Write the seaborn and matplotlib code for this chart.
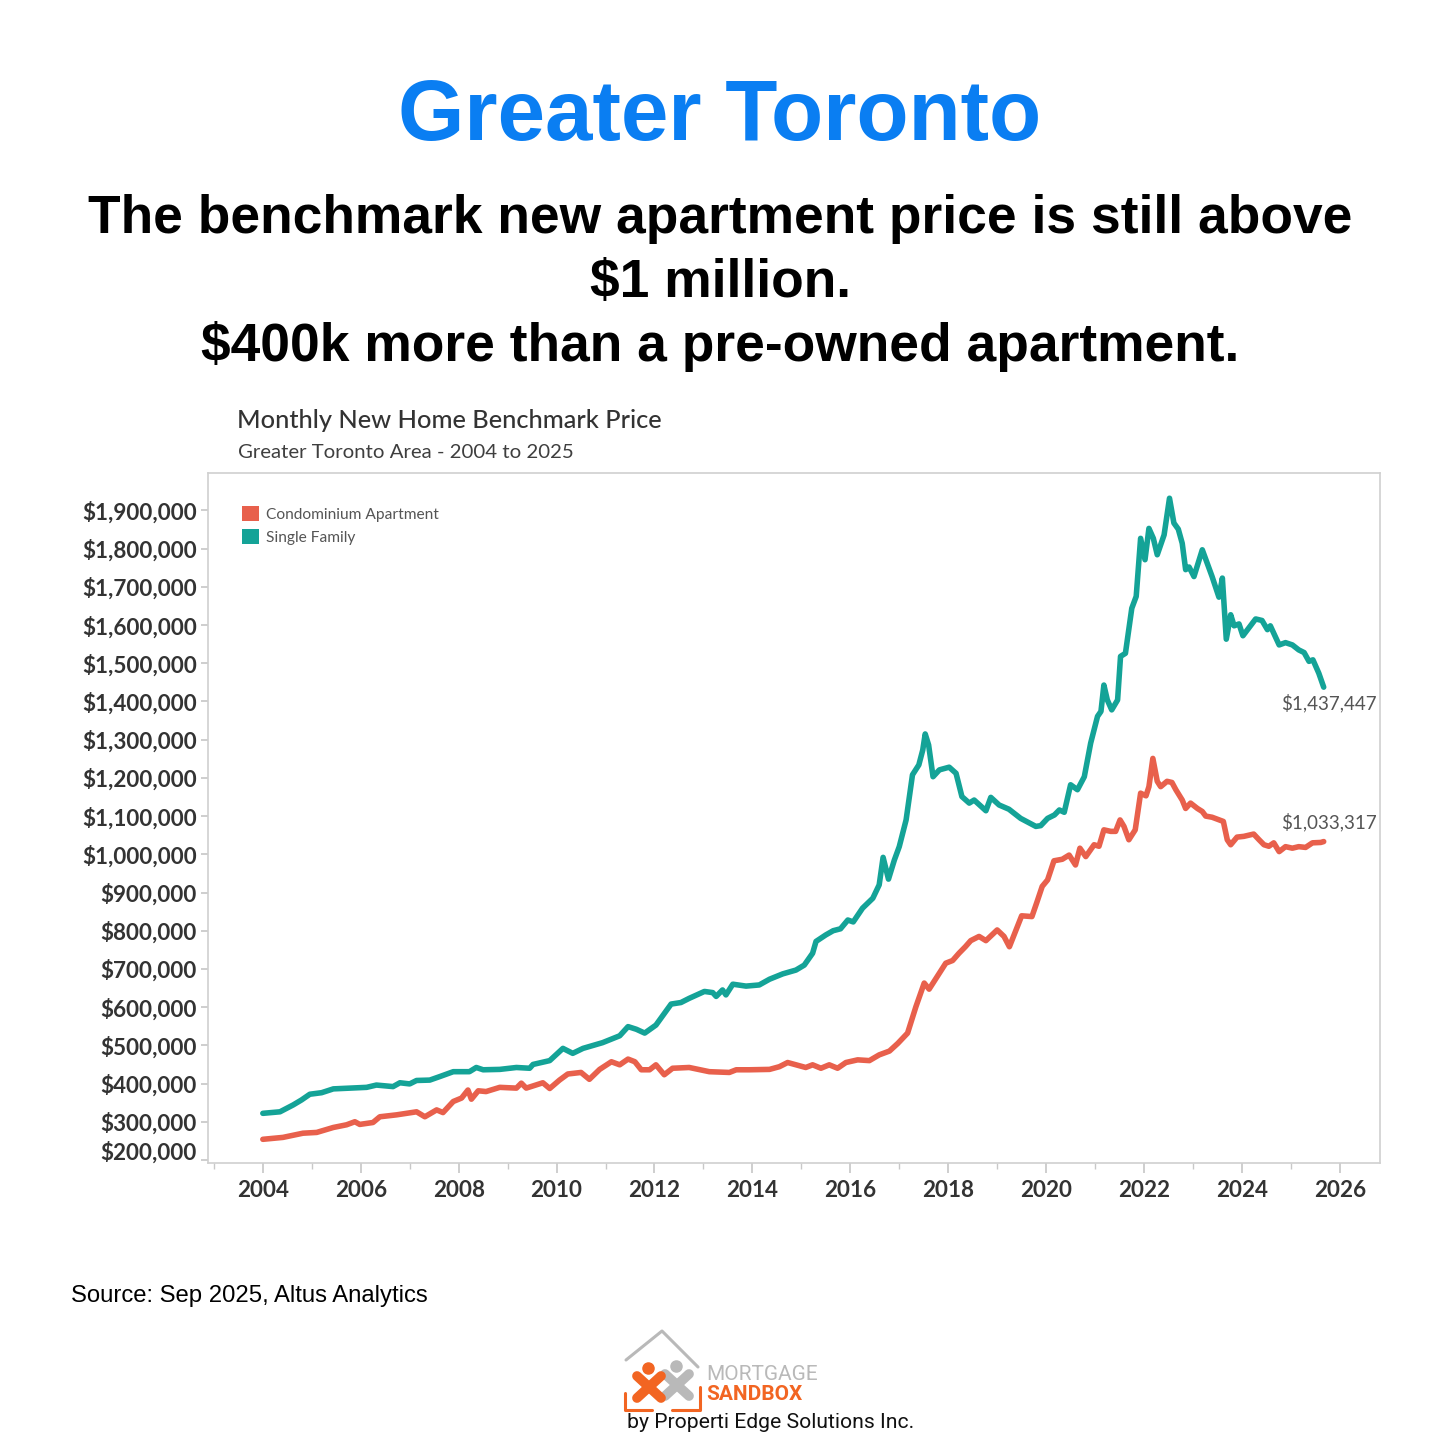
import numpy as np
import pandas as pd
import matplotlib
matplotlib.use('Agg')
import matplotlib.pyplot as plt
from matplotlib.patches import Patch
from matplotlib.lines import Line2D
from matplotlib.ticker import FixedLocator, StrMethodFormatter
import seaborn as sns

# Values (decimal year, price in $ thousands).
sf_years = [2004.00, 2004.35, 2004.62, 2004.79, 2004.96, 2005.20, 2005.44, 2005.78,
            2006.12, 2006.32, 2006.66, 2006.80, 2007.00, 2007.14, 2007.41, 2007.61,
            2007.89, 2008.22, 2008.36, 2008.50, 2008.84, 2009.18, 2009.45, 2009.52,
            2009.86, 2010.13, 2010.33, 2010.54, 2010.94, 2011.29, 2011.46, 2011.63,
            2011.80, 2012.03, 2012.34, 2012.54, 2012.71, 2013.02, 2013.19, 2013.26,
            2013.39, 2013.46, 2013.60, 2013.87, 2014.14, 2014.35, 2014.62, 2014.89,
            2015.06, 2015.23, 2015.30, 2015.50, 2015.65, 2015.80, 2015.95, 2016.06,
            2016.25, 2016.46, 2016.59, 2016.67, 2016.78, 2016.90, 2017.00, 2017.14,
            2017.27, 2017.40, 2017.48, 2017.53, 2017.60, 2017.69, 2017.82, 2018.02,
            2018.16, 2018.28, 2018.43, 2018.53, 2018.77, 2018.87, 2019.04, 2019.24,
            2019.48, 2019.79, 2019.89, 2020.03, 2020.17, 2020.27, 2020.37, 2020.50,
            2020.64, 2020.78, 2020.91, 2021.05, 2021.12, 2021.18, 2021.25, 2021.34,
            2021.46, 2021.52, 2021.62, 2021.75, 2021.84, 2021.93, 2022.02, 2022.10,
            2022.19, 2022.27, 2022.41, 2022.52, 2022.61, 2022.70, 2022.78, 2022.85,
            2022.92, 2023.02, 2023.19, 2023.39, 2023.53, 2023.60, 2023.68, 2023.77,
            2023.84, 2023.94, 2024.02, 2024.28, 2024.41, 2024.52, 2024.58, 2024.76,
            2024.89, 2025.03, 2025.16, 2025.27, 2025.37, 2025.45, 2025.57, 2025.67]
sf_values = [322, 326, 344, 357, 372, 376, 386, 388,
             390, 396, 392, 402, 399, 408, 409, 418,
             431, 431, 442, 436, 437, 442, 440, 450,
             460, 492, 479, 492, 507, 525, 549, 542,
             532, 553, 608, 612, 623, 641, 638, 628,
             645, 632, 660, 655, 658, 673, 687, 697,
             710, 741, 772, 789, 800, 805, 828, 823,
             859, 885, 920, 992, 935, 985, 1020, 1090,
             1208, 1234, 1273, 1315, 1286, 1203, 1221, 1228,
             1212, 1151, 1134, 1142, 1114, 1149, 1129, 1118,
             1094, 1073, 1075, 1094, 1103, 1116, 1110, 1182,
             1169, 1203, 1291, 1361, 1374, 1443, 1404, 1378,
             1404, 1518, 1526, 1644, 1675, 1827, 1771, 1853,
             1827, 1784, 1836, 1932, 1867, 1851, 1814, 1745,
             1752, 1727, 1797, 1727, 1673, 1723, 1563, 1627,
             1598, 1603, 1572, 1616, 1612, 1588, 1598, 1548,
             1554, 1548, 1535, 1528, 1505, 1509, 1474, 1437.447]

condo_years = [2004.00, 2004.41, 2004.82, 2005.10, 2005.44, 2005.71, 2005.88, 2005.98,
               2006.25, 2006.39, 2006.73, 2007.14, 2007.31, 2007.55, 2007.68, 2007.89,
               2008.06, 2008.19, 2008.26, 2008.40, 2008.56, 2008.84, 2009.18, 2009.28,
               2009.38, 2009.72, 2009.86, 2010.06, 2010.23, 2010.50, 2010.67, 2010.88,
               2011.12, 2011.29, 2011.46, 2011.60, 2011.73, 2011.90, 2012.03, 2012.20,
               2012.37, 2012.71, 2013.12, 2013.53, 2013.67, 2013.94, 2014.35, 2014.55,
               2014.72, 2014.89, 2015.09, 2015.23, 2015.40, 2015.57, 2015.74, 2015.91,
               2016.15, 2016.39, 2016.59, 2016.80, 2016.97, 2017.17, 2017.34, 2017.51,
               2017.61, 2017.82, 2017.95, 2018.09, 2018.22, 2018.35, 2018.46, 2018.63,
               2018.77, 2019.00, 2019.14, 2019.25, 2019.50, 2019.71, 2019.81, 2019.92,
               2020.03, 2020.16, 2020.33, 2020.47, 2020.60, 2020.69, 2020.81, 2020.98,
               2021.08, 2021.18, 2021.32, 2021.42, 2021.51, 2021.59, 2021.69, 2021.82,
               2021.93, 2022.04, 2022.10, 2022.18, 2022.27, 2022.34, 2022.47, 2022.57,
               2022.65, 2022.78, 2022.85, 2022.95, 2023.09, 2023.19, 2023.26, 2023.39,
               2023.56, 2023.62, 2023.70, 2023.77, 2023.90, 2024.04, 2024.14, 2024.24,
               2024.35, 2024.45, 2024.55, 2024.65, 2024.76, 2024.89, 2025.03, 2025.16,
               2025.30, 2025.44, 2025.61, 2025.67]
condo_values = [254, 259, 270, 272, 285, 292, 300, 293,
                298, 313, 318, 326, 313, 331, 324, 353,
                362, 383, 359, 381, 379, 390, 388, 401,
                388, 402, 387, 409, 425, 429, 411, 437,
                457, 449, 464, 457, 436, 436, 449, 423,
                440, 442, 431, 429, 436, 436, 437, 444,
                455, 449, 442, 449, 440, 449, 440, 455,
                462, 460, 475, 485, 505, 532, 601, 663,
                647, 689, 715, 722, 741, 758, 774, 785,
                774, 802, 785, 758, 839, 837, 874, 916,
                933, 983, 987, 998, 972, 1016, 994, 1025,
                1021, 1064, 1060, 1060, 1090, 1073, 1038, 1064,
                1160, 1153, 1177, 1251, 1191, 1177, 1191, 1188,
                1169, 1142, 1120, 1134, 1120, 1112, 1100, 1097,
                1089, 1086, 1038, 1025, 1045, 1047, 1050, 1053,
                1038, 1025, 1021, 1030, 1007, 1020, 1016, 1020,
                1018, 1030, 1031, 1033.317]

series_names = ['Condominium Apartment', 'Single Family']
series_colors = ['#e8604c', '#14a397']
y_ticks = list(range(200000, 2000000, 100000))
x_ticks = list(range(2004, 2027, 2))

df = pd.concat([
    pd.DataFrame({'year': condo_years, 'price': np.array(condo_values) * 1000,
                  'type': series_names[0]}),
    pd.DataFrame({'year': sf_years, 'price': np.array(sf_values) * 1000,
                  'type': series_names[1]}),
])

sns.set_theme(style='white')
plt.rcParams['font.family'] = ['Lato', 'DejaVu Sans']

fig = plt.figure(figsize=(14.4, 14.4), dpi=100)
ax = fig.add_axes([208 / 1440, 1 - 1163 / 1440, 1172 / 1440, 690 / 1440])

sns.lineplot(data=df, x='year', y='price', hue='type', hue_order=series_names,
             palette=series_colors, linewidth=4.0, ax=ax, legend=False,
             estimator=None, sort=False)

ax.set_xlim(2002.88, 2026.82)
ax.set_ylim(192000, 1998000)
ax.yaxis.set_major_locator(FixedLocator(y_ticks))
ax.yaxis.set_major_formatter(StrMethodFormatter('${x:,.0f}'))
ax.xaxis.set_major_locator(FixedLocator(x_ticks))
ax.xaxis.set_minor_locator(FixedLocator(list(range(2003, 2026, 2))))
ax.xaxis.set_major_formatter(StrMethodFormatter('{x:.0f}'))
ax.set_xlabel('')
ax.set_ylabel('')
for s in ax.spines.values():
    s.set_color('#d0d0d0')
    s.set_linewidth(1.2)
ax.tick_params(axis='both', which='both', color='#c8c8c8', labelcolor='#333333',
               labelsize=16.2, direction='out')
ax.tick_params(axis='y', which='major', left=True, length=5, pad=3)
ax.tick_params(axis='x', which='major', bottom=True, length=7, pad=5)
ax.tick_params(axis='x', which='minor', bottom=True, length=4)
for lbl in ax.get_xticklabels() + ax.get_yticklabels():
    lbl.set_fontweight('bold')
ax.get_yticklabels()[0].set_verticalalignment('baseline')

# end-point value labels
ax.annotate('$1,437,447', (sf_years[-1], sf_values[-1] * 1000), xytext=(3.5, -11.5),
            textcoords='offset points', ha='center', va='center', fontsize=13.5,
            color='#555555')
ax.annotate('$1,033,317', (condo_years[-1], condo_values[-1] * 1000), xytext=(3.5, 14),
            textcoords='offset points', ha='center', va='center', fontsize=13.5,
            color='#555555')

handles = [Patch(facecolor=c, edgecolor='none') for c in series_colors]
ax.legend(handles, series_names, loc='upper left', bbox_to_anchor=(0.0239, 0.961),
          frameon=False, fontsize=11.2, labelcolor='#555555', handlelength=1.05,
          handleheight=1.05, handletextpad=0.45, labelspacing=0.5, borderaxespad=0)

# chart header
fig.text(237 / 1440, 1 - 421 / 1440, 'Monthly New Home Benchmark Price', fontsize=18.3,
         color='#333333', va='center', ha='left', fontweight='medium')
fig.text(238 / 1440, 1 - 453 / 1440, 'Greater Toronto Area - 2004 to 2025', fontsize=14.7,
         color='#3f3f3f', va='center', ha='left')

# page titles
fig.text(0.5, 1 - 118 / 1440, 'Greater Toronto', fontsize=61.5, fontweight='bold',
         color='#0a7ef2', ha='center', va='center', family='Liberation Sans')
subtitle = ['The benchmark new apartment price is still above', '$1 million.',
            '$400k more than a pre-owned apartment.']
for i, line in enumerate(subtitle):
    fig.text(0.5, 1 - (219 + 64 * i) / 1440, line, fontsize=38.4, fontweight='bold',
             color='black', ha='center', va='center', family='Liberation Sans')

fig.text(71 / 1440, 1 - 1296 / 1440, 'Source: Sep 2025, Altus Analytics', fontsize=17.2,
         color='black', ha='left', va='center', family='Liberation Sans')

# logo
def px(x, y):
    return x / 1440, 1 - y / 1440

orange = '#f26522'
grey = '#b9b9b9'
roof = [px(626, 1360), px(662, 1331), px(698, 1367)]
fig.add_artist(Line2D([p[0] for p in roof], [p[1] for p in roof], color=grey, lw=2.2))
for pts in ([px(625, 1393), px(625, 1410), px(652, 1410)],
            [px(672, 1410), px(700, 1410), px(700, 1387)]):
    fig.add_artist(Line2D([p[0] for p in pts], [p[1] for p in pts], color=orange, lw=2.2))
for cx, cy, col in ((677, 1385, grey), (649, 1387, orange)):
    for dx in (-1, 1):
        a, b = px(cx - 12 * dx, cy - 11), px(cx + 12 * dx, cy + 11)
        fig.add_artist(Line2D([a[0], b[0]], [a[1], b[1]], color=col, lw=7,
                              solid_capstyle='round'))
    hx, hy = px(cx - 1, cy - 19)
    fig.add_artist(Line2D([hx], [hy], marker='o', markersize=8, color=col))
fig.text(706 / 1440, 1 - 1375 / 1440, 'MORTGAGE', fontsize=15, color=grey,
         family='Roboto', ha='left', va='center')
fig.text(706 / 1440, 1 - 1394 / 1440, 'SANDBOX', fontsize=15, color=orange,
         fontweight='bold', family='Roboto', ha='left', va='center')
fig.text(627 / 1440, 1 - 1422 / 1440, 'by Properti Edge Solutions Inc.', fontsize=15.2,
         color='#111111', family='Roboto', ha='left', va='center')

fig.savefig('out.png', dpi=100, facecolor='white')
